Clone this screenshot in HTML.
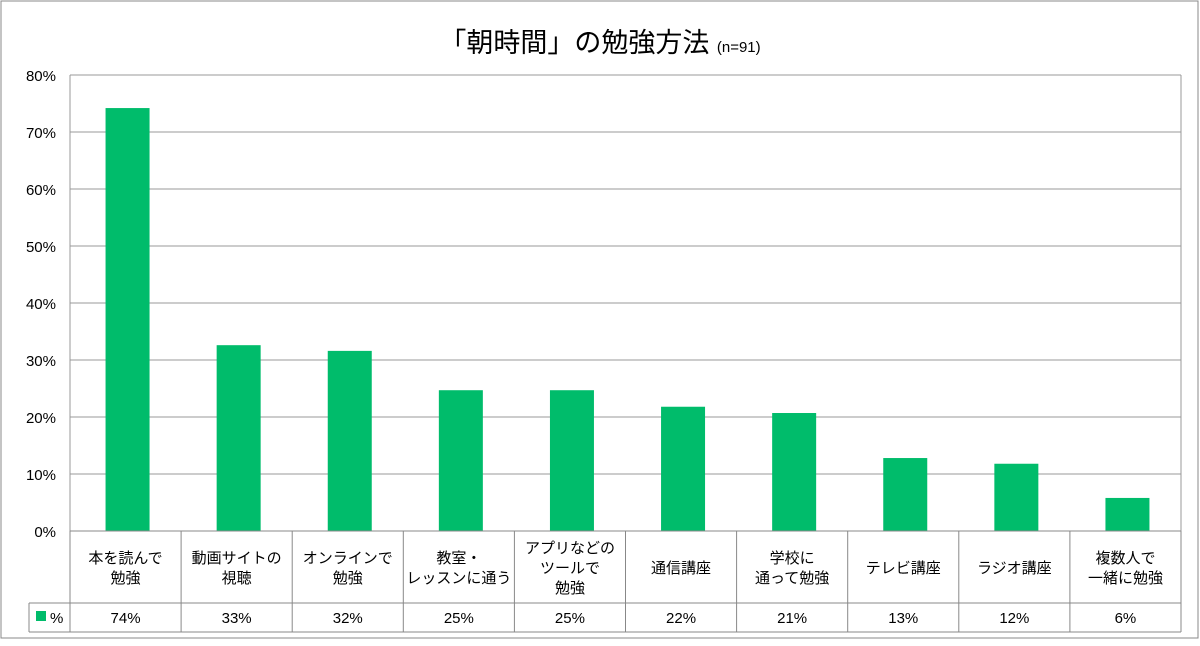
<!DOCTYPE html>
<html><head><meta charset="utf-8">
<style>
html,body{margin:0;padding:0;background:#fff;}
body{width:1200px;height:641px;overflow:hidden;font-family:"Liberation Sans","Noto Sans CJK JP",sans-serif;}
svg text{font-family:"Liberation Sans","Noto Sans CJK JP",sans-serif;fill:#000;}
</style></head>
<body>
<svg id="chart" width="1200" height="641" xmlns="http://www.w3.org/2000/svg">
<rect x="1" y="1" width="1197" height="637" fill="#fff" stroke="#888" stroke-width="1"/>
<text x="600" y="52" text-anchor="middle" font-size="27">「朝時間」の勉強方法 <tspan font-size="15">(n=91)</tspan></text>
<g id="grid"></g><g id="bars"></g><g id="table"></g>
</svg>
<script>
const categories=[["本を読んで","勉強"],["動画サイトの","視聴"],["オンラインで","勉強"],["教室・","レッスンに通う"],["アプリなどの","ツールで","勉強"],["通信講座"],["学校に","通って勉強"],["テレビ講座"],["ラジオ講座"],["複数人で","一緒に勉強"]];
const values=[74.2,32.6,31.6,24.7,24.7,21.8,20.7,12.8,11.8,5.8];
const valueLabels=["74%","33%","32%","25%","25%","22%","21%","13%","12%","6%"];
const yTicks=[0,10,20,30,40,50,60,70,80];
const NS="http://www.w3.org/2000/svg";
const L=70,R=1181,T=75,B=531,yMax=80;
const bw=(R-L)/categories.length;
const y=v=>B-(v/yMax)*(B-T);
const x=i=>L+i*bw;
function mk(tag,attrs,parent,txt){const e=document.createElementNS(NS,tag);for(const k in attrs)e.setAttribute(k,attrs[k]);if(txt!==undefined)e.textContent=txt;parent.appendChild(e);return e;}
const grid=document.getElementById('grid'),bars=document.getElementById('bars'),table=document.getElementById('table');
yTicks.forEach(t=>{
  const ln=mk('line',{x1:L,x2:R,y1:y(t),y2:y(t),stroke:'#999','stroke-width':1},grid);
  
  
  const tx=mk('text',{x:L-14,y:y(t)+6,'text-anchor':'end','font-size':15},grid,t+'%');
  
  
});
const ax=mk('line',{x1:L,x2:L,y1:T,y2:B,stroke:'#999'},grid);


const rx=mk('line',{x1:R,x2:R,y1:T,y2:B,stroke:'#999'},grid);


values.forEach((v,i)=>{
  const w=44;
  const r=mk('rect',{x:x(i)+bw/2-w/2+2,y:y(v),width:w,height:B-y(v),fill:'#00BC6B'},bars);
  
  
});
// table
const r1=B,r2=603,r3=632,lx=29;
[[L,r1,R,r1],[L,r2,R,r2],[lx,r2,lx,r3],[lx,r2,L,r2],[lx,r3,R,r3],[R,r1,R,r3]].forEach(c=>{
  const ln=mk('line',{x1:c[0],y1:c[1],x2:c[2],y2:c[3],stroke:'#888'},table);
  
  
});
for(let i=0;i<=categories.length;i++){
  const ln=mk('line',{x1:x(i),x2:x(i),y1:r1,y2:r3,stroke:'#888'},table);
  
  
}
const sw=mk('rect',{x:36,y:611,width:10,height:10,fill:'#00BC6B'},table);


const lt=mk('text',{x:50,y:623,'font-size':15},table,'%');


categories.forEach((lines,i)=>{
  const cx=x(i)+bw/2;const mid=(r1+r2)/2;const lh=20;
  const start=mid-(lines.length-1)*lh/2+6;
  const t=mk('text',{'text-anchor':'middle','font-size':15},table);
  
  
  lines.forEach((s,j)=>mk('tspan',{x:cx,y:start+j*lh},t,s));
  const vt=mk('text',{x:cx,y:623,'text-anchor':'middle','font-size':15},table,valueLabels[i]);
  
  
});
</script>
</body></html>
